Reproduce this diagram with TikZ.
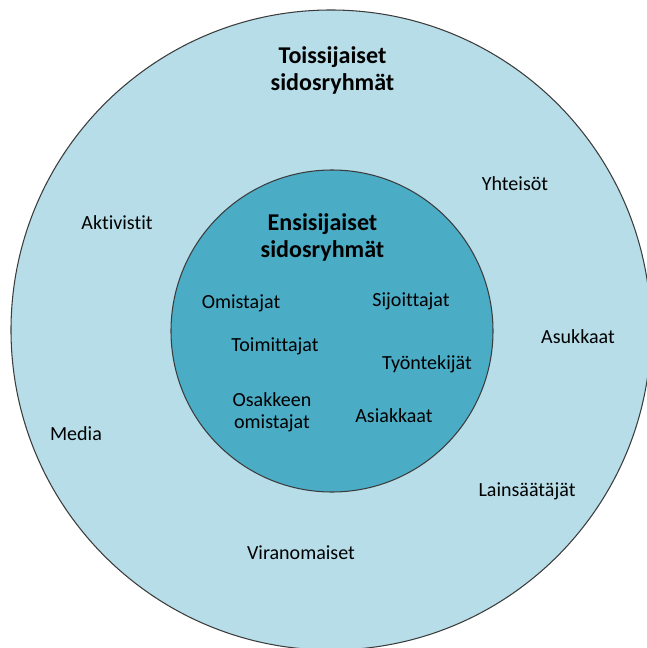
\documentclass[tikz,border=0pt]{standalone}
\usepackage{fontspec}
\setmainfont{Carlito}[Ligatures=NoCommon]
\usepackage{xcolor}
\usepackage{tikz}
\definecolor{ringouter}{HTML}{B6DDE8}
\definecolor{ringinner}{HTML}{4BACC6}
\definecolor{ringline}{RGB}{60,60,60}

\begin{document}
\begin{tikzpicture}[
        ring/.style={draw=ringline, line width=0.6pt},
        group/.style={align=center, font=\fontsize{11.4}{12.5}\selectfont, inner sep=0pt},
        title/.style={align=center, font=\fontsize{13.7}{15.4}\selectfont\bfseries, inner sep=0pt},
    ]
        \useasboundingbox (-6.62,6.6) rectangle (6.30,-6.36);

        % Circles
        \fill[ring, fill=ringouter] (0,0) circle (6.4);
        \fill[ring, fill=ringinner] (0.02,-0.02) circle (3.22);

        % Secondary stakeholders
        \node[title] (secondary) at (0.03,5.2) {Toissijaiset\\sidosryhmät};
        \node[group] (yhteisot)  at (3.68,2.92)   {Yhteisöt};
        \node[group] (aktiv)     at (-4.28,2.14)  {Aktivistit};
        \node[group] (asukkaat)  at (4.94,-0.14)  {Asukkaat};
        \node[group] (media)     at (-5.1,-2.08)  {Media};
        \node[group] (lainsaat)  at (3.92,-3.22)  {Lainsäätäjät};
        \node[group] (viran)     at (-0.6,-4.46)  {Viranomaiset};

        % Primary stakeholders
        \node[title] (primary) at (-0.17,1.86) {Ensisijaiset\\sidosryhmät};
        \node[group] (omist)   at (-1.8,0.54)   {Omistajat};
        \node[group] (sijoit)  at (1.6,0.58)    {Sijoittajat};
        \node[group] (toimit)  at (-1.12,-0.32) {Toimittajat};
        \node[group] (tyontek) at (1.92,-0.68)  {Työntekijät};
        \node[group] (osakk)   at (-1.18,-1.64) {Osakkeen\\omistajat};
        \node[group] (asiakk)  at (1.26,-1.72)  {Asiakkaat};
    \end{tikzpicture}
\end{document}
